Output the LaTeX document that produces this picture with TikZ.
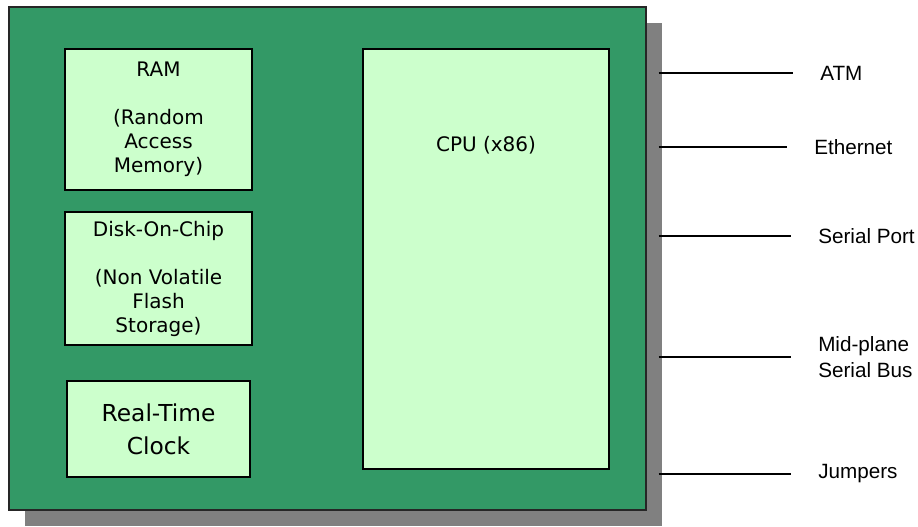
\documentclass[tikz,border=0pt]{standalone}
\usepackage{fontspec}
\usepackage{tikz}
\usetikzlibrary{shadows}
\usepackage{xcolor}
\newfontfamily\chipfont{DejaVu Sans}
\newfontfamily\portfont{Liberation Sans}
\definecolor{BoardGreen}{HTML}{339966}
\definecolor{ChipFill}{HTML}{CCFFCC}
\definecolor{ShadowGray}{HTML}{808080}

\begin{document}
\begin{tikzpicture}[x=0.75pt, y=-0.75pt,
    board/.style={draw=black!85, fill=BoardGreen, line width=0.8pt, inner sep=0pt, minimum width=477.75pt, minimum height=377.25pt, drop shadow={shadow xshift=12pt, shadow yshift=-12pt, fill=ShadowGray, opacity=1}},
    chip/.style={draw=black, fill=ChipFill, line width=1.2pt, align=center, inner sep=0pt, font=\chipfont\fontsize{15}{18}\selectfont},
    port/.style={anchor=west, align=left, inner sep=0pt, font=\portfont\fontsize{15.5}{20}\selectfont},
    wire/.style={draw=black, line width=1.5pt, shorten <=9pt, shorten >=20pt}
  ]
    \useasboundingbox (0,0) rectangle (918,526);

    \node[board] (board) at (327.5,258.5) {};

    \node[chip, minimum width=140.25pt, minimum height=105.75pt] (ram) at (158.5,119.5) {RAM\\[18pt](Random\\Access\\Memory)};
    \node[chip, minimum width=140.25pt, minimum height=99.75pt] (disk) at (158.5,278.5) {Disk-On-Chip\\[18pt](Non Volatile\\Flash\\Storage)};
    \node[chip, minimum width=137.25pt, minimum height=72pt, font=\chipfont\fontsize{17.5}{25}\selectfont] (rtc) at (158.5,429) {Real-Time\\Clock};
    \node[chip, minimum width=184.5pt, minimum height=315pt] (cpu) at (486,259) {};
    \node[chip, draw=none, fill=none] (cpulbl) at (486,145) {CPU (x86)};

    \node[port] (atm) at (820,73) {ATM};
    \node[port] (eth) at (814,147) {Ethernet};
    \node[port] (ser) at (818,236) {Serial Port};
    \node[port] (mid) at (818,357) {Mid-plane\\Serial Bus};
    \node[port] (jmp) at (818,474) {Jumpers};

    \draw[wire] (board.east |- atm.west) -- (atm.west);
    \draw[wire] (board.east |- eth.west) -- (eth.west);
    \draw[wire] (board.east |- ser.west) -- (ser.west);
    \draw[wire] (board.east |- mid.west) -- (mid.west);
    \draw[wire] (board.east |- jmp.west) -- (jmp.west);
  \end{tikzpicture}
\end{document}
